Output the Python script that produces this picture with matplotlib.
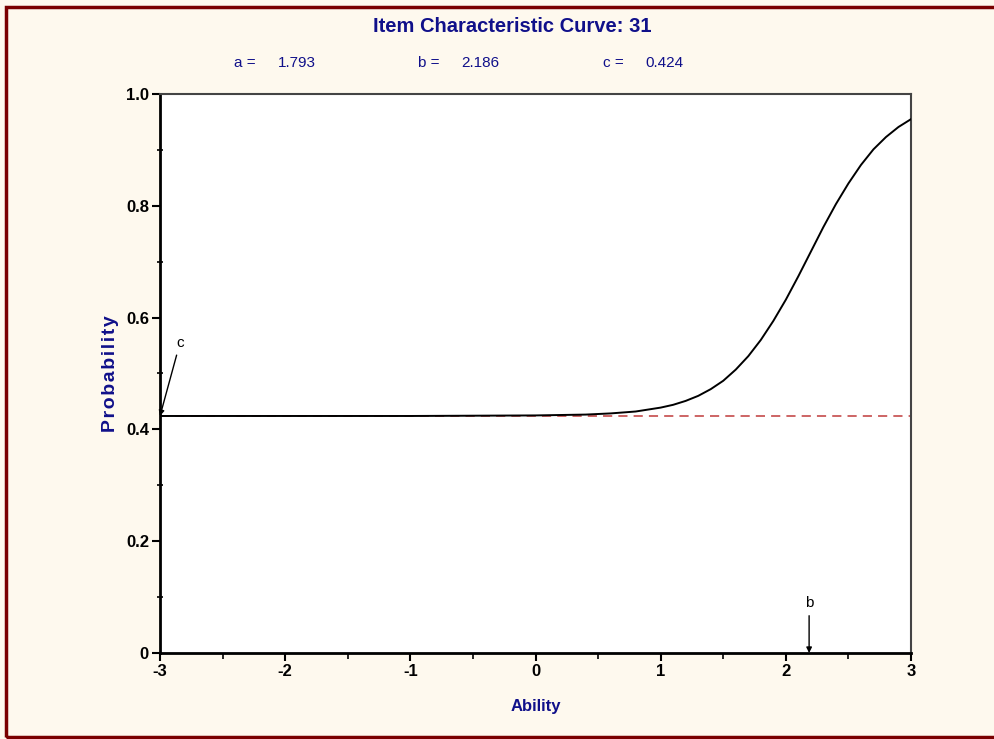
import matplotlib.pyplot as plt
from matplotlib.patches import Rectangle
from matplotlib.ticker import MultipleLocator
from matplotlib import font_manager

# item parameters shown in the header
item_no = 31
a_par = 1.793
b_par = 2.186
c_par = 0.424

# curve
ability = [-3.0, -2.0, -1.0, 0.0, 0.4, 0.6, 0.8, 1.0, 1.1, 1.2, 1.3, 1.4, 1.5,
           1.6, 1.7, 1.8, 1.9, 2.0, 2.1, 2.2, 2.3, 2.4, 2.5, 2.6, 2.7, 2.8, 2.9, 3.0]
prob = [0.424, 0.424, 0.424, 0.425, 0.4265, 0.4286, 0.432, 0.439, 0.444, 0.451,
        0.460, 0.472, 0.487, 0.507, 0.531, 0.560, 0.594, 0.632, 0.674, 0.718,
        0.762, 0.803, 0.840, 0.873, 0.901, 0.923, 0.941, 0.955]

navy = '#10108a'
bg = '#fef9ee'
plt.rcParams['font.family'] = ['Liberation Sans', 'DejaVu Sans']
names = {f.name for f in font_manager.fontManager.ttflist}
narrow = ['Liberation Sans Narrow', 'DejaVu Sans'] if 'Liberation Sans Narrow' in names else ['Liberation Sans', 'DejaVu Sans']
title_size = 16.5 if 'Liberation Sans Narrow' in names else 14.5

fig = plt.figure(figsize=(9.94, 7.39), dpi=100, facecolor=bg)
W, H = 994, 739
ax = fig.add_axes([160 / W, 1 - 653 / H, (911 - 160) / W, (653 - 94) / H])
ax.set_facecolor('white')

# frame round the whole picture
fig.patches.append(Rectangle((6 / W, 2 / H), 1.2, 1 - 9 / H, transform=fig.transFigure,
                             fill=False, edgecolor='#7a0000', linewidth=2.5))

ax.plot([-3, 3], [c_par, c_par], ls=(0, (6, 4)), color='#c03a3a', lw=1.1)
ax.plot(ability, prob, color='black', lw=1.4, zorder=3)

ax.set_xlim(-3, 3)
ax.set_ylim(0, 1)
ax.set_xticks([-3, -2, -1, 0, 1, 2, 3])
ax.set_xticklabels(['-3', '-2', '-1', '0', '1', '2', '3'])
ax.set_yticks([0, 0.2, 0.4, 0.6, 0.8, 1.0])
ax.set_yticklabels(['0', '0.2', '0.4', '0.6', '0.8', '1.0'])
ax.xaxis.set_minor_locator(MultipleLocator(0.5))
ax.yaxis.set_minor_locator(MultipleLocator(0.1))
ax.tick_params(which='major', length=6, width=1.5, labelsize=12, pad=2)
ax.tick_params(which='minor', length=4, width=1.2)
ax.tick_params(axis='y', which='minor', direction='inout')
for lab in ax.get_xticklabels() + ax.get_yticklabels():
    lab.set_fontweight('bold')

ax.spines['left'].set_linewidth(2)
ax.spines['bottom'].set_linewidth(2)
ax.spines['top'].set_color('#444444')
ax.spines['right'].set_color('#444444')
ax.spines['top'].set_linewidth(1.5)
ax.spines['right'].set_linewidth(1.5)

ax.set_xlabel('Ability', color=navy, fontsize=12, fontweight='bold', labelpad=14)
ax.set_ylabel('\u200a'.join('Probability'), color=navy, fontsize=14, fontweight='bold',
              labelpad=5)

fig.text(512 / W, 1 - 26 / H, 'Item Characteristic Curve: %d' % item_no, color=navy,
         fontsize=title_size, fontweight='bold', ha='center', va='center', family=narrow)
for lx, vx, name, val in [(245, 297, 'a =', a_par), (429, 480, 'b =', b_par),
                          (613, 664, 'c =', c_par)]:
    fig.text(lx / W, 1 - 63 / H, name, color=navy, fontsize=11, ha='center', va='center')
    fig.text(vx / W, 1 - 63 / H, '%.3f' % val, color=navy, fontsize=11, ha='center', va='center')

ax.annotate('c', xy=(-3, c_par), xytext=(-2.84, 0.548), fontsize=11, ha='center',
            arrowprops=dict(arrowstyle='-|>', color='black', lw=1, shrinkA=2, shrinkB=0,
                            mutation_scale=8))
ax.annotate('b', xy=(b_par, 0), xytext=(b_par, 0.082), fontsize=11, ha='center',
            arrowprops=dict(arrowstyle='-|>', color='black', lw=1, shrinkA=2, shrinkB=0,
                            mutation_scale=8))

fig.savefig('out.png', dpi=100, facecolor=bg)
